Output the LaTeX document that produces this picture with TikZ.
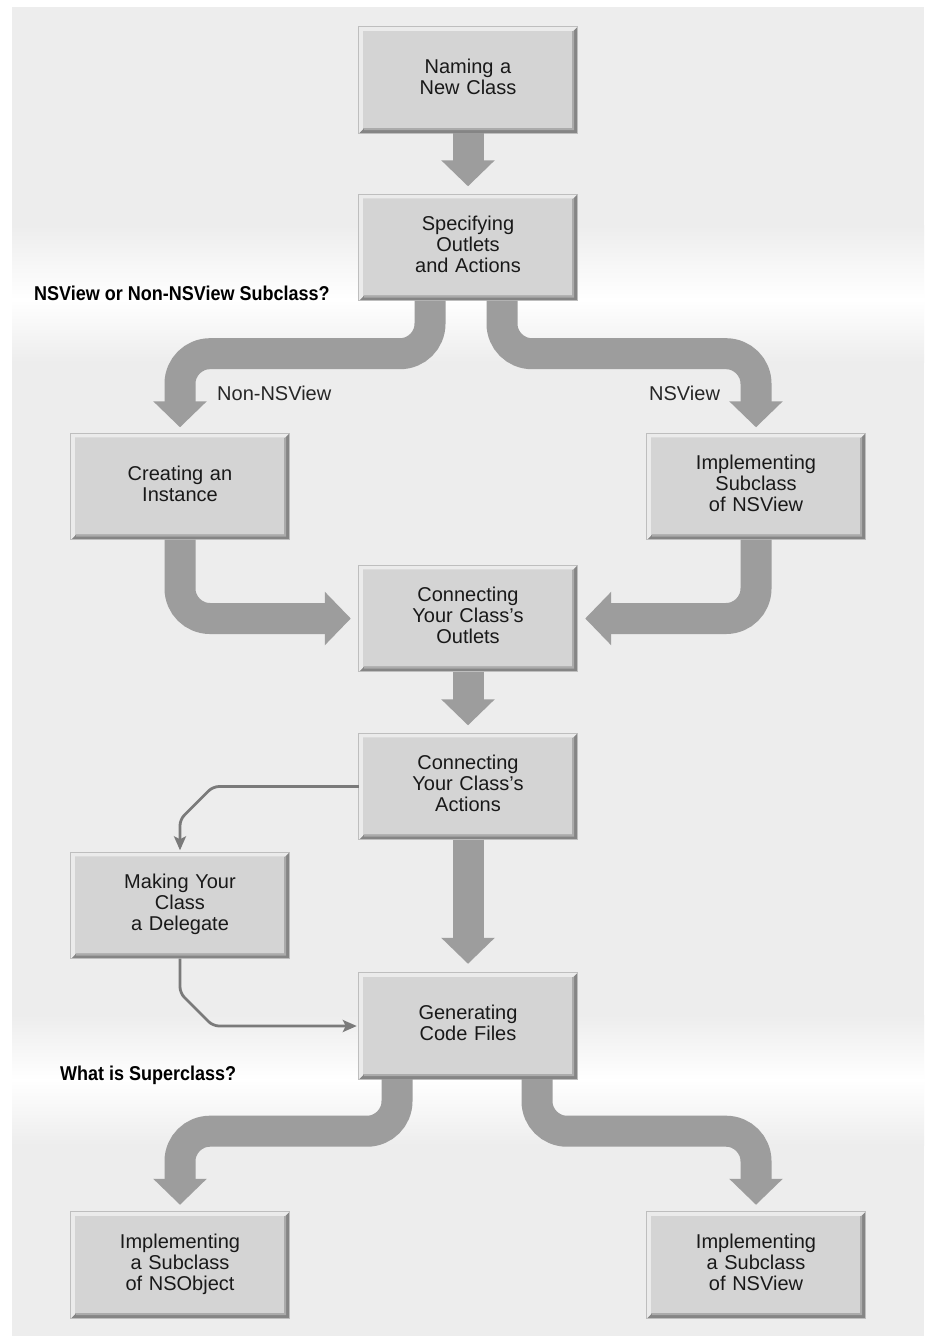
\documentclass[tikz,border=0pt]{standalone}
\usepackage{fontspec}
\setmainfont{Liberation Sans}
\newfontfamily\headfont{Liberation Sans}[FakeStretch=0.9]
\usetikzlibrary{arrows.meta,calc}

\definecolor{panel}{HTML}{EDEDED}
\definecolor{boxfill}{HTML}{D4D4D4}
\definecolor{rimdark}{HTML}{858585}
\definecolor{rimmid}{HTML}{ABABAB}
\definecolor{rimlight}{HTML}{EBEBEB}
\definecolor{rimline}{HTML}{BEBEBE}
\definecolor{flow}{HTML}{9D9D9D}
\definecolor{link}{HTML}{7A7A7A}

\tikzset{
  stepbox/.style={fill=boxfill, minimum width=218pt, minimum height=106pt,
    inner sep=0pt, text width=205pt, align=center,
    font=\fontsize{20}{21}\selectfont, text=black!90,
    execute at begin node=\strut, execute at end node=\strut},
  flowarrow/.style={draw=flow, line width=31pt, rounded corners=30pt,
    -{Triangle[width=52pt,length=26pt]}},
  linkarrow/.style={draw=link, line width=2.8pt, rounded corners=6pt,
    -{Stealth[length=14pt,width=12pt,inset=3pt]}},
  question/.style={font=\headfont\bfseries\fontsize{20}{21}\selectfont,
    anchor=base west, inner sep=0pt, text=black},
  branchlabel/.style={font=\fontsize{20}{21}\selectfont,
    anchor=base west, inner sep=0pt, text=black!85},
}

% raised rim of a step box: dark lower/right edge, light upper/left edge
\newcommand\bevelrim[1]{%
  \fill[rimdark] (#1.south west) -- (#1.south east) -- (#1.north east)
    -- ($(#1.north east)+(-5,5)$) -- ($(#1.south east)+(-5,-5)$)
    -- ($(#1.south west)+(5,-5)$) -- cycle;
  \fill[rimmid] ($(#1.south west)+(5,-3)$) -- ($(#1.south east)+(-3,-3)$)
    -- ($(#1.north east)+(-3,3)$) -- ($(#1.north east)+(-5,5)$)
    -- ($(#1.south east)+(-5,-5)$) -- ($(#1.south west)+(5,-5)$) -- cycle;
  \fill[rimlight] (#1.south west) -- (#1.north west) -- (#1.north east)
    -- ($(#1.north east)+(-4,4)$) -- ($(#1.north west)+(4,4)$)
    -- ($(#1.south west)+(4,-4)$) -- cycle;
  \draw[rimline, line width=0.8pt] (#1.south west) rectangle (#1.north east);
}

\begin{document}
\begin{tikzpicture}[x=1pt, y=-1pt]
  \useasboundingbox (0,0) rectangle (925,1341);
  \fill[white] (0,0) rectangle (925,1341);

  % backdrop with two pale bands behind the questions
  \fill[panel] (12,7) rectangle (924,1336);
  \shade[top color=panel, bottom color=white] (12,225) rectangle (924,300);
  \shade[top color=white, bottom color=panel] (12,299.5) rectangle (924,362);
  \shade[top color=panel, bottom color=white] (12,1015) rectangle (924,1080);
  \shade[top color=white, bottom color=panel] (12,1079.5) rectangle (924,1145);

  % steps
  \node[stepbox] (name) at (468,80)   {Naming a\\New Class};
  \node[stepbox] (spec) at (468,247.5) {Specifying\\Outlets\\and Actions};
  \node[stepbox] (inst) at (180,486.5) {Creating an\\Instance};
  \node[stepbox] (nsv)  at (756,486.5) {Implementing\\Subclass\\of NSView};
  \node[stepbox] (outl) at (468,618.5) {Connecting\\Your Class’s\\Outlets};
  \node[stepbox] (act)  at (468,786.5) {Connecting\\Your Class’s\\Actions};
  \node[stepbox] (dele) at (180,905.5) {Making Your\\Class\\a Delegate};
  \node[stepbox] (gen)  at (468,1026) {Generating\\Code Files};
  \node[stepbox] (obj)  at (180,1265) {Implementing\\a Subclass\\of NSObject};
  \node[stepbox] (view) at (756,1265) {Implementing\\a Subclass\\of NSView};

  \foreach \b in {name,spec,inst,nsv,outl,act,dele,gen,obj,view} {\bevelrim{\b}}

  % questions and branch labels
  \node[question] (q1) at (34,300) {NSView or Non-NSView Subclass?};
  \node[question] (q2) at (60,1080) {What is Superclass?};
  \node[branchlabel] (lnon) at (217,400) {Non-NSView};
  \node[branchlabel] (lns)  at (649,400) {NSView};

  % main flow
  \draw[flowarrow] (name.south) -- ($(spec.north)+(0,-8)$);
  \draw[flowarrow] ($(spec.south)+(-38,0)$) -- ++(0,53) -| ($(inst.north)+(0,-6)$);
  \draw[flowarrow] ($(spec.south)+(34,0)$) -- ++(0,53) -| ($(nsv.north)+(0,-6)$);
  \draw[flowarrow] (inst.south) |- ($(outl.west)+(-8,0)$);
  \draw[flowarrow] (nsv.south) |- ($(outl.east)+(8,0)$);
  \draw[flowarrow] (outl.south) -- ($(act.north)+(0,-8)$);
  \draw[flowarrow] (act.south) -- ($(gen.north)+(0,-9)$);
  \draw[flowarrow] ($(gen.south)+(-71,0)$) -- ++(0,52) -| ($(obj.north)+(0,-7)$);
  \draw[flowarrow] ($(gen.south)+(69,0)$) -- ++(0,52) -| ($(view.north)+(0,-7)$);

  % optional detour through the delegate step
  \draw[linkarrow] (act.west) -- ($(dele.north |- act.west)+(33,0)$)
    -- ($(dele.north |- act.west)+(0,33)$) -- ($(dele.north)+(0,-2)$);
  \draw[linkarrow] (dele.south) -- ($(dele.south |- gen.west)+(0,-33)$)
    -- ($(dele.south |- gen.west)+(33,0)$) -- ($(gen.west)+(-2,0)$);
\end{tikzpicture}
\end{document}
